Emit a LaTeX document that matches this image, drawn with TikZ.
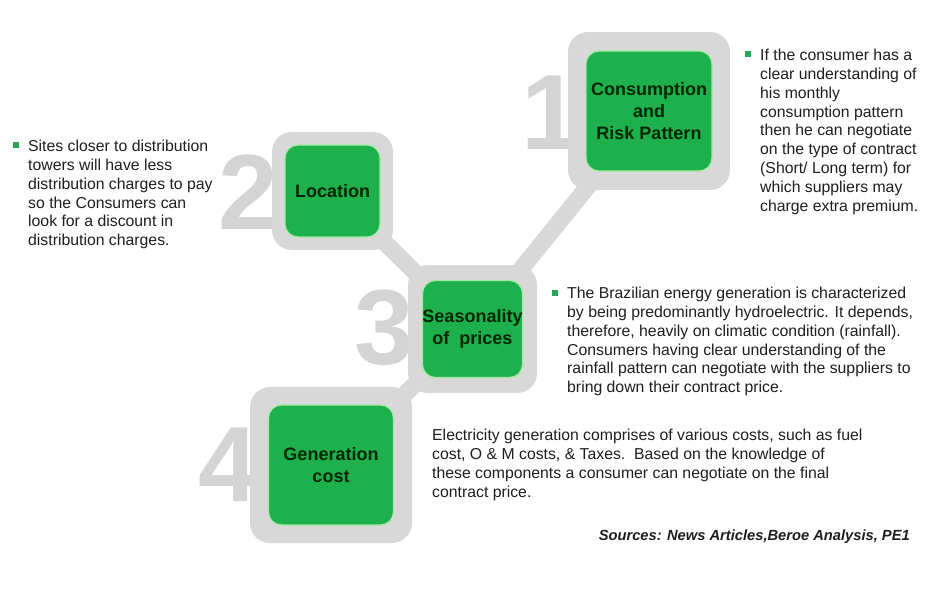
\documentclass[tikz,border=0pt]{standalone}
\usepackage{fontspec}
\setmainfont{Liberation Sans}
\usepackage{tikz}
\usetikzlibrary{shapes}
\usepackage{xcolor}
\definecolor{bgreen}{RGB}{30,176,76}
\definecolor{bgreenline}{RGB}{160,235,160}
\definecolor{bgray}{RGB}{216,216,216}
\definecolor{bdigit}{RGB}{212,212,212}
\definecolor{btext}{RGB}{30,30,30}
\definecolor{bbullet}{RGB}{40,165,85}
\tikzstyle{ring} = [rectangle, rounded corners=20pt, fill=bgray, draw=none]
\tikzstyle{card} = [rectangle, rounded corners=13pt, fill=bgreen, draw=bgreenline, line width=1.2pt, inner sep=0pt, align=center, font=\fontsize{18}{22}\selectfont\bfseries, text=black!85!green]
\tikzstyle{band} = [line width=17pt, color=bgray]
\tikzstyle{digit} = [inner sep=0pt, font=\fontsize{107}{107}\selectfont\bfseries, text=bdigit]
\tikzstyle{note} = [anchor=north west, inner sep=0pt, align=left, font=\fontsize{15.8}{18.8}\selectfont, text=btext]
\tikzstyle{bullet} = [rectangle, fill=bbullet, minimum size=6pt, inner sep=0pt]

\begin{document}
\begin{tikzpicture}[x=1pt,y=-1pt]
\useasboundingbox (0,0) rectangle (940,614);

% Big numbers behind the frames
\node[digit] (num1) at (551,113) {1};
\node[digit] (num2) at (248,192) {2};
\node[digit] (num3) at (384,328) {3};
\node[digit] (num4) at (228,465) {4};

% Grey frames
\node[ring, minimum width=162pt, minimum height=158pt] (ring1) at (649,111) {};
\node[ring, minimum width=121pt, minimum height=118pt] (ring2) at (332.5,191) {};
\node[ring, minimum width=129pt, minimum height=128pt] (ring3) at (472.5,329) {};
\node[ring, minimum width=162pt, minimum height=156pt] (ring4) at (331,465) {};

% Links between frames
\draw[band] (ring1.center) -- (ring3.center);
\draw[band] (ring2.center) -- (ring3.center);
\draw[band] (ring3.center) -- (ring4.center);

% Green boxes
\node[card, minimum width=126pt, minimum height=120pt] (consumption) at (ring1.center) {Consumption\\and\\Risk Pattern};
\node[card, minimum width=95pt, minimum height=92pt] (location) at (ring2.center) {Location};
\node[card, minimum width=100pt, minimum height=97pt] (season) at (ring3.center) {Seasonality\\of\ \ prices};
\node[card, minimum width=125pt, minimum height=120pt] (gencost) at (ring4.center) {Generation\\cost};

% Notes
\node[bullet] (dot1) at (748,54) {};
\node[note] (note1) at (760,49) {If the consumer has a\\clear understanding of\\his monthly\\consumption pattern\\then he can negotiate\\on the type of contract\\(Short/ Long term) for\\which suppliers may\\charge extra premium.};

\node[bullet] (dot2) at (16,145) {};
\node[note] (note2) at (28,140) {Sites closer to distribution\\towers will have less\\distribution charges to pay\\so the Consumers can\\look for a discount in\\distribution charges.};

\node[bullet] (dot3) at (555,293) {};
\node[note] (note3) at (567,287) {The Brazilian energy generation is characterized\\by being predominantly hydroelectric. It depends,\\therefore, heavily on climatic condition (rainfall).\\Consumers having clear understanding of the\\rainfall pattern can negotiate with the suppliers to\\bring down their contract price.};

\node[note] (note4) at (432,429) {Electricity generation comprises of various costs, such as fuel\\cost, O \& M costs, \& Taxes.\ \ Based on the knowledge of\\these components a consumer can negotiate on the final\\contract price.};

% Sources
\node[anchor=north east, inner sep=0pt, font=\fontsize{14.7}{17}\selectfont\bfseries\itshape, text=btext] (sources) at (910,530) {Sources: News Articles,Beroe Analysis, PE1};
\end{tikzpicture}
\end{document}
